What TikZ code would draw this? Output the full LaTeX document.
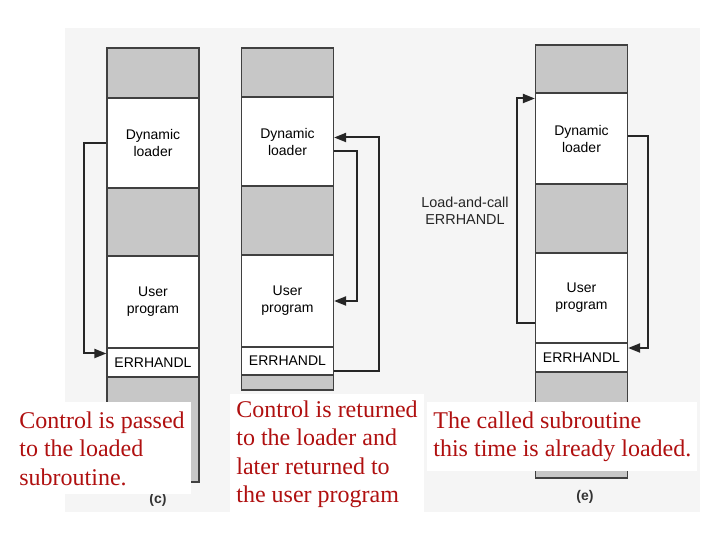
\documentclass[tikz,border=0pt]{standalone}
\usepackage{fontspec}
\setmainfont{Liberation Serif}
\setsansfont{Liberation Sans}
\usepackage{tikz}
\usetikzlibrary{arrows.meta}
\definecolor{notered}{RGB}{176,16,16}

\begin{document}
\begin{tikzpicture}[x=0.5pt, y=-0.5pt,
    mem/.style={rectangle, draw=black!75, line width=0.6pt, fill=white, minimum width=46pt, inner sep=0pt, font=\sffamily\fontsize{7}{8.5}\selectfont, align=center},
    free/.style={mem, fill=black!22},
    arr/.style={-{Triangle[length=6pt, width=4.5pt]}, line width=1pt, black!85},
    note/.style={fill=white, inner sep=3pt, anchor=north west, align=left, text=notered, font=\fontsize{12}{14.25}\selectfont},
    tag/.style={font=\sffamily\bfseries\fontsize{7}{8}\selectfont, black!80}
]

\useasboundingbox (0,0) rectangle (720,540);
\fill[black!4] (65,28) rectangle (700,512);

% Column (c)
\node[free, minimum height=25pt] (c0) at (153,73) {};
\node[mem, minimum height=45pt] (cdl) at (153,143) {Dynamic\\loader};
\node[free, minimum height=34pt] (c1) at (153,222) {};
\node[mem, minimum height=46pt] (cup) at (153,302) {User\\program};
\node[mem, minimum height=14.5pt] (cerr) at (153,362.5) {ERRHANDL};
\node[free, minimum height=52.5pt] (c2) at (153,429.5) {};
\node[tag] (ctag) at (158,500) {(c)};

% Column (d)
\node[free, minimum height=24.5pt] (d0) at (287.5,72.5) {};
\node[mem, minimum height=44.5pt] (ddl) at (287.5,141.5) {Dynamic\\loader};
\node[free, minimum height=34.5pt] (d1) at (287.5,220.5) {};
\node[mem, minimum height=46pt] (dup) at (287.5,301) {User\\program};
\node[mem, minimum height=14pt] (derr) at (287.5,361) {ERRHANDL};
\node[free, minimum height=7.5pt] (d2) at (287.5,382.5) {};

% Column (e)
\node[free, minimum height=24pt] (e0) at (581.5,69) {};
\node[mem, minimum height=45.5pt] (edl) at (581.5,138.5) {Dynamic\\loader};
\node[free, minimum height=34.5pt] (e1) at (581.5,218.5) {};
\node[mem, minimum height=45pt] (eup) at (581.5,298) {User\\program};
\node[mem, minimum height=14.5pt] (eerr) at (581.5,357.5) {ERRHANDL};
\node[free, minimum height=53pt] (e2) at (581.5,425) {};
\node[tag] (etag) at (585,497) {(e)};

\node[font=\sffamily\fontsize{7.2}{8.5}\selectfont, align=center, black!85] (call) at (465,211) {Load-and-call\\ERRHANDL};

% Arrows
\draw[arr] (cdl.west) -- ++(-22,0) |- ([yshift=4.5pt]cerr.west);
\draw[arr] ([yshift=-5pt]derr.east) -- ++(45,0) |- ([yshift=2pt]ddl.east);
\draw[arr] ([yshift=-4.75pt]ddl.east) -- ++(23,0) |- (dup.east);
\draw[arr] ([yshift=-12.5pt]eup.west) -- ++(-18,0) |- ([yshift=20pt]edl.west);
\draw[arr] ([yshift=1.25pt]edl.east) -- ++(20,0) |- ([yshift=4.75pt]eerr.east);

% Notes
\node[note, inner ysep=4.5pt] (n1) at (13,402) {Control is passed\\to the loaded\\subroutine.};
\node[note] (n2) at (230,394) {Control is returned\\to the loader and\\later returned to\\the user program};
\node[note, inner ysep=4.5pt] (n3) at (427,402) {The called subroutine\\this time is already loaded.};

\end{tikzpicture}
\end{document}
